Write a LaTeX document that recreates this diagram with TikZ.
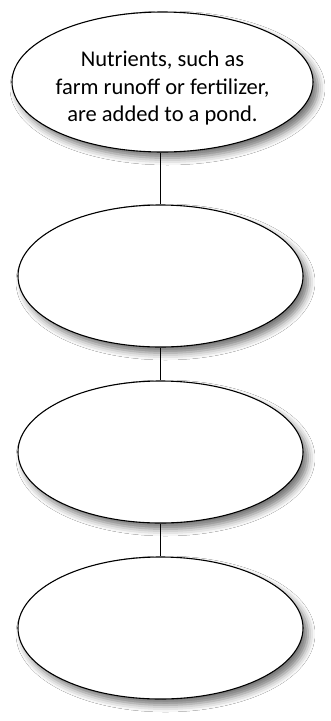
\documentclass[tikz,border=0pt]{standalone}
\usepackage{fontspec}
\setmainfont{Carlito}
\usetikzlibrary{shapes.geometric,shadows.blur}
\tikzset{
  oval/.style={ellipse, draw=black, line width=1.1pt, fill=white, inner sep=0pt,
    blur shadow={shadow xshift=5pt, shadow yshift=-6pt, shadow blur radius=7pt, shadow opacity=55}},
  link/.style={draw=black, line width=1.1pt},
  label/.style={align=center, font=\fontsize{22.5}{27.5}\selectfont, text=black}
}
\begin{document}
\begin{tikzpicture}[x=1pt,y=1pt]
\useasboundingbox[fill=white] (0,0) rectangle (330,-721);
\node[oval, minimum width=301pt, minimum height=140pt] (e1) at (162.5,-82) {};
\node[oval, minimum width=285pt, minimum height=142pt] (e2) at (160.5,-276) {};
\node[oval, minimum width=285pt, minimum height=142pt] (e3) at (160.5,-452) {};
\node[oval, minimum width=285pt, minimum height=142pt] (e4) at (160.5,-628) {};
\node[label] (t1) at (162.5,-88) {Nutrients, such as\\farm runoff or fertilizer,\\are added to a pond.};
\draw[link] (e1.south -| e2) -- (e2);
\draw[link] (e2) -- (e3);
\draw[link] (e3) -- (e4);
\end{tikzpicture}
\end{document}
